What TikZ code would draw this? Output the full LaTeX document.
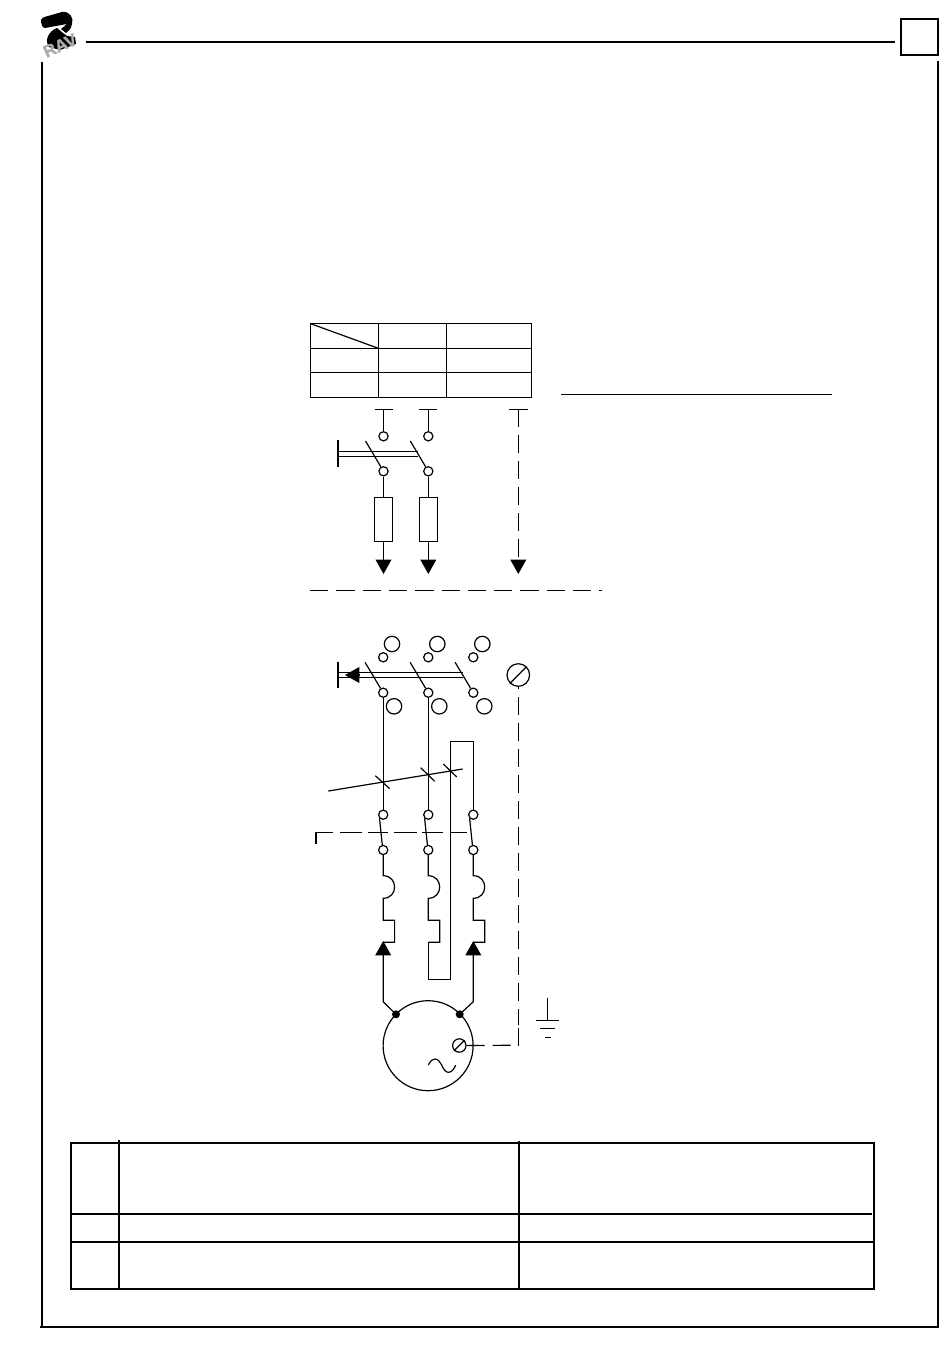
\documentclass[tikz,border=0pt]{standalone}
\usepackage{amsmath}
\usepackage{fontspec}
\usetikzlibrary{arrows.meta}

\newfontfamily\ravfont[BoldFeatures={FakeBold=1.5}]{Liberation Sans}

\tikzset{
  term/.style={circle,draw,inner sep=0pt,minimum size=4.6pt},
  bigterm/.style={circle,draw,inner sep=0pt,minimum size=7.7pt},
  joint/.style={circle,fill=black,inner sep=0pt,minimum size=4pt},
  earthterm/.style={circle,draw,inner sep=0pt},
  heavy/.style={line width=1.1pt},
  dashline/.style={dash pattern=on 9pt off 4pt},
  tipline/.style={-{Triangle[length=7.2pt,width=7.9pt,sep=0pt]}},
}

\begin{document}
\begin{tikzpicture}
  [x=.5pt,y=-.5pt,line width=.6pt]
  \useasboundingbox (0,0) rectangle (950,1369);

  % logo
  \fill (41,22) .. controls (40,18) and (44,17) .. (48,16) -- (62,12) .. controls (70,11) and (74,18) .. (72,24)
    .. controls (71,29) and (69,31) .. (66,33) -- (61,29) -- (67,24) -- (45,28) .. controls (43,28) and (41,25) .. (41,22) -- cycle;
  \fill (57,28) -- (63,33) -- (67,36) -- (75,37) -- (76,44) -- (60,50) -- (49,47) .. controls (44,40) and (49,31) .. (57,28) -- cycle;
  \node[rotate=24,text=black!33,font=\ravfont\bfseries\fontsize{8.5}{9}\selectfont,inner sep=0pt] (ravtext) at (60,45.5) {RAV};

  % page frame
  \coordinate (fa) at (86,42);
  \coordinate (fb) at (895,42);
  \coordinate (fc) at (42,62);
  \coordinate (fd) at (42,1327);
  \coordinate (fe) at (40,1327);
  \coordinate (ff) at (939,1327);
  \coordinate (fg) at (938,61);
  \coordinate (fh) at (938,1327);
  \foreach \from/\to in {fa/fb,fc/fd,fe/ff,fg/fh}
    \draw[heavy] (\from) -- (\to);
  \coordinate (boxa) at (901,19);
  \coordinate (boxb) at (938,55);
  \draw[heavy] (boxa) rectangle (boxb);

  % upper table
  \coordinate (ta) at (310.7,323.7);
  \coordinate (tb) at (531.7,397.3);
  \coordinate (tc) at (378.3,348.3);
  \draw (ta) rectangle (tb);
  \draw (ta) -- (tc);
  \foreach \y in {348.3,372.3}
    \draw (310.7,\y) -- (531.7,\y);
  \foreach \x in {378.3,446.3}
    \draw (\x,323.7) -- (\x,397.3);
  \coordinate (ula) at (561,394.4);
  \coordinate (ulb) at (832,394.4);
  \draw (ula) -- (ulb);

  % feeder
  \foreach \i/\x in {a/383.5,b/428.3} {
    \coordinate (fd\i) at (\x-9,409.3);
    \coordinate (fe\i) at (\x+9,409.3);
    \coordinate (ft\i) at (\x,409.3);
    \node[term] (fu\i) at (\x,436.3) {};
    \node[term] (fl\i) at (\x,471.3) {};
    \coordinate (fb\i) at (\x-18,441);
    \node[draw,inner sep=0pt,minimum width=9pt,minimum height=22.2pt] (fuse\i) at (\x,519.5) {};
    \coordinate (fv\i) at (\x,574);
    \draw (fd\i) -- (fe\i);
    \draw (ft\i) -- (fu\i);
    \draw (fb\i) -- (fl\i);
    \draw (fl\i) -- (fuse\i);
    \draw[tipline] (fuse\i) -- (fv\i);
  }
  \foreach \y/\n in {451.3/1,456.3/2} {
    \coordinate (fp\n) at (338,\y);
    \coordinate (fq\n) at (418,\y);
    \draw (fp\n) -- (fq\n);
  }
  \coordinate (fra) at (338,440.3);
  \coordinate (frb) at (338,467.3);
  \draw (fra) -- (frb);

  % neutral of feeder
  \coordinate (nta) at (509.3,409.3);
  \coordinate (ntb) at (527.7,409.3);
  \coordinate (ntc) at (518.3,409.3);
  \coordinate (ntd) at (518.3,560);
  \coordinate (nte) at (518.3,574);
  \draw (nta) -- (ntb);
  \draw[dashline] (ntc) -- (ntd);
  \draw[tipline] (ntd) -- (nte);

  % separating line
  \coordinate (sepa) at (310,590.3);
  \coordinate (sepb) at (602,590.3);
  \draw[dash pattern=on 9.15pt off 4pt] (sepa) -- (sepb);

  % motor branch, three poles
  \foreach \i/\x/\xb in {a/383.2/392,b/428.3/437.3,c/473.3/482.3} {
    \node[bigterm] (bu\i) at (\xb,644) {};
    \node[term] (su\i) at (\x,657.3) {};
    \coordinate (sb\i) at (\x-18.2,662.3);
    \node[term] (sl\i) at (\x,692.7) {};
    \node[bigterm] (bl\i) at (\xb+2,706.3) {};
    \node[term] (cu\i) at (\x,814.7) {};
    \node[term] (cl\i) at (\x,850) {};
    \coordinate (h\i a) at (\x,875.7);
    \coordinate (h\i b) at (\x,898.3);
    \coordinate (h\i c) at (\x,920.3);
    \coordinate (h\i d) at (\x+11.4,920.3);
    \coordinate (h\i e) at (\x+11.4,942.3);
    \coordinate (h\i f) at (\x,942.3);
    \draw (sb\i) -- (sl\i);
    \draw (cu\i.south west) -- (cl\i.100);
    \draw (cl\i) -- (h\i a) .. controls (\x+15.2,875.7) and (\x+15.2,898.3) .. (h\i b)
      -- (h\i c) -- (h\i d) -- (h\i e) -- (h\i f);
  }
  \foreach \from/\to in {sla/cua,slb/cub}
    \draw (\from) -- (\to);

  % bars of the main switch
  \foreach \y/\n in {672.3/1,677.3/2} {
    \coordinate (bar\n a) at (338,\y);
    \coordinate (bar\n b) at (463.3,\y);
    \draw (bar\n a) -- (bar\n b);
  }
  \coordinate (barc) at (338,661.7);
  \coordinate (bard) at (338,688.3);
  \coordinate (bare) at (359,675);
  \coordinate (barf) at (345,675);
  \draw (barc) -- (bard);
  \draw[tipline] (bare) -- (barf);

  % third pole goes round
  \coordinate (ra) at (473.3,741.3);
  \coordinate (rb) at (450.3,741.3);
  \coordinate (rc) at (450.3,979.3);
  \coordinate (rd) at (428.3,979.3);
  \draw (cuc) -- (ra) -- (rb) -- (rc) -- (rd) -- (hbf);

  % slanted line and ticks
  \coordinate (sla1) at (328.3,791);
  \coordinate (sla2) at (462.7,769);
  \draw (sla1) -- (sla2);
  \foreach \xa/\ya/\xe/\ye in {375.3/775.7/389.7/788.7,420.7/767.7/434.7/781.3,443.3/764/456.7/777} {
    \coordinate (tick1) at (\xa,\ya);
    \coordinate (tick2) at (\xe,\ye);
    \draw (tick1) -- (tick2);
  }

  % dashed link of the lower switches
  \coordinate (la) at (316,844);
  \coordinate (lb) at (316,832.3);
  \coordinate (lc) at (467,832.3);
  \draw[dash pattern=on 14.35pt off 3.65pt on 10.85pt off 3pt on 10.15pt off 3pt on 11.35pt off 2.5pt on 10.5pt off 4pt on 8pt off 20pt] (la) -- (lb) -- (lc);

  % motor
  \node[circle,draw,inner sep=0pt,minimum size=45pt] (motor) at (428.1,1045.7) {};
  \node[joint] (ja) at (396,1014.3) {};
  \node[joint] (jc) at (459.7,1014.3) {};
  \coordinate (ka) at (383.2,1001.7);
  \coordinate (kc) at (473.3,1001.7);
  \coordinate (aa) at (383.2,941);
  \coordinate (ac) at (473.3,941);
  \draw[tipline] (ja.center) -- (ka) -- (aa);
  \draw[tipline] (jc.center) -- (kc) -- (ac);
  \coordinate (sina) at (428.3,1065);
  \coordinate (sinb) at (441.7,1065);
  \coordinate (sinc) at (455.7,1065);
  \draw (sina) .. controls (431,1060) and (433,1059) .. (435,1059)
    .. controls (438,1059) and (440,1062) .. (sinb)
    .. controls (443,1068) and (445,1072.3) .. (448.3,1072.3)
    .. controls (452,1072.3) and (454,1069) .. (sinc);

  % protective earth
  \node[earthterm,minimum size=11.3pt] (pe) at (518.3,675) {};
  \node[earthterm,minimum size=6.7pt] (me) at (459.3,1045.5) {};
  \draw (pe.south west) -- (pe.north east);
  \draw (me.south west) -- (me.north east);
  \coordinate (pemid) at (511,1045.3);
  \coordinate (pelow) at (518.3,1024.5);
  \coordinate (pefoot) at (518.3,1028.3);
  \coordinate (pecorner) at (518.3,1046);
  \draw[dashline] (me) -- (pemid);
  \draw[dashline,dash phase=8pt] (pe) -- (pelow);
  \draw (pefoot) -- (pecorner);

  % ground symbol
  \foreach \n/\xa/\xe/\y in {g1/536/559.3/1020.3,g2/540/555.3/1028.3,g3/545/550.7/1037.3} {
    \coordinate (\n a) at (\xa,\y);
    \coordinate (\n b) at (\xe,\y);
    \draw (\n a) -- (\n b);
  }
  \coordinate (gt) at (547.3,997.7);
  \coordinate (gm) at (547.3,1020.3);
  \draw (gt) -- (gm);

  % lower table
  \coordinate (lta) at (71,1142.7);
  \coordinate (ltb) at (874,1289);
  \draw[heavy] (lta) rectangle (ltb);
  \foreach \y/\xe in {1214/872,1242/874}
    \draw[heavy] (70,\y) -- (\xe,\y);
  \draw[line width=.9pt] (118.8,1140) -- (118.8,1289);
  \draw[heavy] (518.7,1141) -- (518.7,1289);

\end{tikzpicture}
\end{document}
